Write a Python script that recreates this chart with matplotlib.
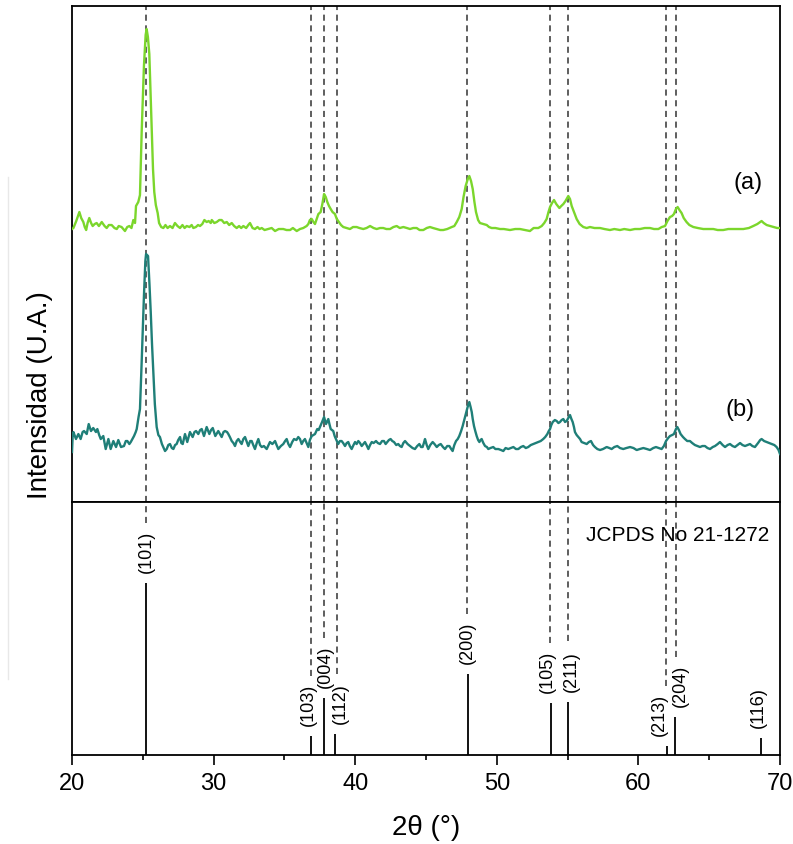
import numpy as np
import matplotlib
matplotlib.use("Agg")
import matplotlib.pyplot as plt
from matplotlib.ticker import MultipleLocator
from matplotlib.lines import Line2D

plt.rcParams['font.family'] = ['Liberation Sans', 'DejaVu Sans']

# XRD scans: (2theta, intensity a.u. above baseline)
scan_a = [
    (20.0, 0), (20.1, 1), (20.3, 8), (20.52, 17), (20.65, 11), (20.8, 7), (20.9, 2), (21.0, -1), (21.1, 6),
    (21.22, 11), (21.35, 6), (21.46, 3), (21.6, 5), (21.74, 6), (21.9, 3), (22.1, 7), (22.3, 3), (22.45, 1),
    (22.6, 4), (22.8, 4), (23.0, 1), (23.16, 0), (23.3, 3), (23.5, 2), (23.62, 0), (23.74, -2), (23.9, 2),
    (24.05, 3), (24.2, 1), (24.33, 9), (24.45, 6), (24.52, 23), (24.68, 27), (24.8, 34), (24.92, 97),
    (25.08, 163), (25.2, 194), (25.27, 200), (25.36, 192), (25.46, 175), (25.55, 135), (25.63, 97),
    (25.72, 60), (25.81, 37), (25.92, 24), (26.05, 16), (26.15, 6), (26.3, 2), (26.45, 1), (26.6, 4),
    (26.75, 1), (26.92, 3), (27.1, 1), (27.27, 6), (27.45, 3), (27.63, 1), (27.8, 4), (27.95, 1), (28.1, 3),
    (28.3, 2), (28.45, 4), (28.57, 1), (28.75, 2), (28.9, 4), (29.04, 3), (29.2, 5), (29.35, 9), (29.51, 7),
    (29.65, 8), (29.8, 6), (29.87, 9), (30.05, 6), (30.22, 7), (30.4, 9), (30.57, 9), (30.75, 6), (30.93, 7),
    (31.1, 4), (31.28, 6), (31.45, 3), (31.63, 1), (31.8, 3), (31.95, 1), (32.1, 3), (32.3, 1), (32.45, 4),
    (32.57, 6), (32.75, 1), (32.92, 0), (33.1, 2), (33.25, 0), (33.4, 1), (33.6, -1), (33.86, 0), (34.1, 1),
    (34.34, -2), (34.6, 0), (34.92, 0), (35.15, -1), (35.4, -1), (35.6, 1), (35.87, -2), (36.1, 0), (36.33, 1),
    (36.57, 3), (36.69, 5), (36.8, 9), (36.93, 10), (37.05, 7), (37.16, 5), (37.3, 11), (37.4, 15), (37.56, 17),
    (37.68, 25), (37.8, 35), (37.92, 32), (38.03, 27), (38.15, 23), (38.27, 20), (38.4, 17), (38.57, 15),
    (38.7, 10), (38.8, 8), (39.0, 4), (39.16, 2), (39.4, 1), (39.63, 0), (39.85, 2), (40.1, 2), (40.3, 1),
    (40.57, 0), (40.8, 1), (41.05, 3), (41.3, 1), (41.52, 0), (41.75, 1), (41.98, 1), (42.2, 0), (42.46, 0),
    (42.7, 2), (42.93, 3), (43.15, 1), (43.4, 2), (43.65, 1), (43.87, 0), (44.1, 1), (44.34, 1), (44.55, -1),
    (44.81, -1), (45.05, 1), (45.28, 2), (45.5, 1), (45.76, 0), (46.0, -1), (46.22, -1), (46.5, 0), (46.82, 2),
    (47.0, 3), (47.17, 7), (47.35, 12), (47.52, 20), (47.65, 32), (47.8, 43), (47.95, 50), (48.06, 53),
    (48.18, 48), (48.3, 40), (48.42, 27), (48.53, 17), (48.68, 9), (48.81, 6), (49.05, 5), (49.29, 4),
    (49.45, 2), (49.64, 1), (49.9, 1), (50.23, 0), (50.5, 0), (50.93, -1), (51.3, 0), (51.64, 0), (52.0, -1),
    (52.34, -2), (52.6, 1), (52.93, 1), (53.17, 3), (53.35, 6), (53.52, 10), (53.65, 17), (53.76, 22),
    (53.9, 26), (54.04, 29), (54.2, 25), (54.42, 21), (54.55, 23), (54.7, 25), (54.85, 28), (55.05, 33),
    (55.17, 30), (55.29, 23), (55.45, 17), (55.64, 10), (55.85, 5), (56.11, 2), (56.35, 1), (56.58, 2),
    (56.9, 1), (57.29, 1), (57.6, 0), (57.99, -1), (58.3, 0), (58.7, -1), (59.0, 0), (59.41, -1), (59.75, 0),
    (60.11, 0), (60.45, 1), (60.82, 1), (61.1, 0), (61.41, 0), (61.65, 2), (61.88, 3), (62.05, 8), (62.23, 12),
    (62.38, 13), (62.51, 15), (62.65, 20), (62.77, 22), (62.9, 19), (63.05, 16), (63.2, 11), (63.4, 7),
    (63.6, 4), (63.88, 2), (64.2, 1), (64.58, 0), (64.9, 0), (65.29, 0), (65.6, -1), (65.99, -1), (66.35, 0),
    (66.7, 0), (67.05, 0), (67.41, 0), (67.8, 1), (68.11, 3), (68.4, 5), (68.7, 8), (68.85, 6), (69.06, 4),
    (69.3, 3), (69.53, 2), (69.8, 1), (70.0, 1),
]

scan_b = [
    (20.0, -3), (20.05, 14), (20.1, 17), (20.28, 10), (20.45, 15), (20.61, 10), (20.75, 17), (20.85, 18),
    (21.04, 15), (21.18, 25), (21.34, 18), (21.5, 21), (21.69, 17), (21.79, 20), (21.92, 14), (22.03, 10),
    (22.21, 13), (22.38, 0), (22.57, 10), (22.73, 0), (22.92, 8), (23.11, 2), (23.27, 9), (23.46, 2),
    (23.67, 3), (23.8, 8), (23.91, 8), (24.05, 5), (24.15, 7), (24.38, 13), (24.5, 17), (24.57, 20),
    (24.7, 32), (24.8, 40), (24.92, 87), (25.08, 153), (25.18, 188), (25.23, 195), (25.37, 193), (25.47, 165),
    (25.56, 137), (25.65, 105), (25.74, 77), (25.85, 45), (25.98, 22), (26.1, 14), (26.21, 12), (26.35, 5),
    (26.57, -2), (26.69, 0), (26.8, 4), (26.92, 5), (27.05, 1), (27.16, 0), (27.28, 4), (27.39, 5), (27.5, 9),
    (27.63, 12), (27.72, 6), (27.82, 5), (27.98, 15), (28.14, 7), (28.33, 17), (28.52, 12), (28.65, 17),
    (28.76, 18), (28.92, 15), (29.05, 19), (29.16, 20), (29.32, 13), (29.51, 22), (29.7, 15), (29.82, 19),
    (29.94, 21), (30.12, 13), (30.33, 18), (30.45, 15), (30.57, 12), (30.7, 17), (30.81, 18), (30.95, 17),
    (31.04, 15), (31.15, 12), (31.28, 8), (31.4, 6), (31.51, 3), (31.63, 8), (31.75, 10), (31.88, 7),
    (31.98, 5), (32.1, 10), (32.22, 12), (32.35, 7), (32.45, 3), (32.58, 8), (32.69, 8), (32.8, 4), (32.92, 0),
    (33.05, 6), (33.16, 10), (33.28, 4), (33.4, 2), (33.55, 3), (33.75, 0), (33.88, 4), (33.98, 7), (34.15, 5),
    (34.34, 8), (34.45, 4), (34.57, 0), (34.75, 3), (34.92, 5), (35.05, 8), (35.16, 10), (35.28, 5), (35.4, 2),
    (35.55, 7), (35.68, 10), (35.85, 9), (35.98, 12), (36.1, 10), (36.22, 5), (36.33, 8), (36.45, 10),
    (36.57, 6), (36.69, 2), (36.8, 9), (36.93, 13), (37.05, 14), (37.16, 15), (37.32, 20), (37.42, 19),
    (37.51, 22), (37.66, 27), (37.8, 32), (37.94, 25), (38.1, 30), (38.18, 25), (38.27, 20), (38.45, 18),
    (38.55, 13), (38.64, 10), (38.8, 5), (38.92, 8), (39.04, 8), (39.15, 6), (39.28, 3), (39.4, 6), (39.51, 7),
    (39.62, 3), (39.75, 0), (39.88, 4), (39.99, 7), (40.1, 5), (40.22, 8), (40.34, 6), (40.46, 3), (40.58, 5),
    (40.69, 7), (40.8, 4), (40.93, 0), (41.05, 4), (41.17, 7), (41.3, 6), (41.47, 8), (41.6, 6), (41.75, 5),
    (41.9, 8), (42.03, 8), (42.15, 5), (42.27, 7), (42.38, 9), (42.5, 10), (42.62, 8), (42.74, 7), (42.9, 4),
    (43.04, 5), (43.16, 3), (43.28, 2), (43.4, 6), (43.52, 8), (43.7, 5), (43.87, 3), (44.05, 1), (44.22, 0),
    (44.38, 3), (44.53, 5), (44.65, 2), (44.76, 2), (44.85, 6), (44.93, 10), (45.05, 4), (45.16, 0), (45.3, 4),
    (45.47, 7), (45.6, 5), (45.76, 2), (45.9, 4), (46.04, 5), (46.2, 2), (46.34, 0), (46.5, 3), (46.65, 3),
    (46.78, 0), (46.88, -2), (47.0, 4), (47.12, 8), (47.24, 10), (47.35, 13), (47.48, 18), (47.59, 23),
    (47.7, 29), (47.78, 33), (47.94, 42), (48.06, 47), (48.15, 42), (48.23, 37), (48.3, 30), (48.39, 23),
    (48.48, 18), (48.58, 13), (48.68, 9), (48.77, 7), (48.85, 9), (48.93, 10), (49.05, 6), (49.17, 3),
    (49.3, 2), (49.4, 0), (49.55, 1), (49.75, 2), (49.9, 0), (50.11, 0), (50.3, -1), (50.46, -2), (50.62, 1),
    (50.81, 0), (51.0, 1), (51.17, 2), (51.35, 0), (51.52, 0), (51.7, 2), (51.87, 3), (52.05, 1), (52.22, 2),
    (52.4, 4), (52.58, 5), (52.75, 6), (52.93, 7), (53.1, 8), (53.28, 10), (53.42, 12), (53.57, 15),
    (53.67, 18), (53.76, 20), (53.85, 24), (53.95, 27), (54.1, 29), (54.23, 28), (54.35, 26), (54.46, 27),
    (54.58, 29), (54.7, 30), (54.82, 27), (54.93, 28), (55.05, 31), (55.17, 34), (55.27, 30), (55.36, 27),
    (55.45, 22), (55.52, 17), (55.64, 14), (55.76, 12), (55.88, 10), (55.99, 7), (56.17, 6), (56.35, 5),
    (56.5, 7), (56.65, 8), (56.8, 4), (56.93, 2), (57.1, 0), (57.29, -1), (57.5, 0), (57.76, 2), (57.95, 1),
    (58.11, 0), (58.3, 2), (58.51, 3), (58.7, 1), (58.93, 0), (59.15, 1), (59.41, 2), (59.65, 1), (59.88, -1),
    (60.1, 0), (60.35, 1), (60.6, 0), (60.82, -1), (61.05, 1), (61.24, 2), (61.45, 1), (61.64, 0), (61.8, 3),
    (61.95, 8), (62.1, 11), (62.23, 13), (62.38, 14), (62.51, 15), (62.65, 20), (62.75, 22), (62.86, 19),
    (62.98, 15), (63.15, 12), (63.29, 10), (63.45, 8), (63.64, 8), (63.8, 6), (63.99, 4), (64.18, 3),
    (64.35, 2), (64.52, 3), (64.7, 3), (64.88, 1), (65.06, 0), (65.25, 2), (65.41, 3), (65.6, 5), (65.76, 7),
    (65.95, 4), (66.12, 2), (66.3, 4), (66.47, 5), (66.65, 3), (66.82, 2), (67.0, 4), (67.18, 6), (67.35, 4),
    (67.53, 3), (67.7, 4), (67.88, 5), (68.05, 3), (68.23, 2), (68.45, 6), (68.6, 9), (68.7, 10), (68.88, 8),
    (69.06, 7), (69.25, 6), (69.41, 5), (69.6, 4), (69.76, 2), (69.9, -1), (70.0, -5),
]

# JCPDS 21-1272 reference reflections
hkl = ["(101)", "(103)", "(004)", "(112)", "(200)", "(105)", "(211)", "(213)", "(204)", "(116)"]
ref_pos = [25.25, 36.9, 37.8, 38.55, 47.95, 53.8, 55.0, 62.0, 62.6, 68.65]
ref_int = [100, 11, 33, 12, 47, 30, 31, 5, 22, 10]
dashed_pos = [25.2, 36.88, 37.78, 38.68, 47.92, 53.75, 55.0, 61.98, 62.68]

OFF_A, OFF_B = 273, 53
lbl_dx = [0.0, -0.2, 0.1, 0.4, -0.05, -0.25, 0.25, -0.5, 0.35, -0.15]

ta, ia = np.array(scan_a).T
tb, ib = np.array(scan_b).T

fig = plt.figure(figsize=(7.93, 8.45), dpi=100)
ax1 = fig.add_axes([0.0908, 0.4047, 0.8928, 0.5870])
ax2 = fig.add_axes([0.0908, 0.1053, 0.8928, 0.2994], sharex=ax1)

for ax in (ax1, ax2):
    for s in ax.spines.values():
        s.set_linewidth(1.3)

# top panel: patterns
for x in dashed_pos:
    ax1.axvline(x, color="#333333", lw=1.1, ls=(0, (4, 3)), zorder=1)
ax1.plot(ta, ia + OFF_A, color="#7BD62C", lw=1.7, zorder=3)
ax1.plot(tb, ib + OFF_B, color="#1F7F78", lw=1.7, zorder=3)
ax1.set_ylim(0, 496)
ax1.set_xlim(20, 70)
ax1.tick_params(axis="both", which="both", left=False, bottom=False, labelleft=False, labelbottom=False)
fig.text(0.943, 0.7834, "(a)", fontsize=17, ha="center", va="center")
fig.text(0.933, 0.515, "(b)", fontsize=17, ha="center", va="center")

# bottom panel: reference stick pattern
YTOP = 147
ax2.set_ylim(0, YTOP)
ax2.vlines(ref_pos, 0, ref_int, color="black", lw=1.3)
for x, h in zip(dashed_pos, ref_int):
    ax2.vlines(x, h + 35, YTOP, color="#333333", lw=1.1, linestyles=[(0, (4, 3))])
for lab, x, h, dx in zip(hkl, ref_pos, ref_int, lbl_dx):
    ax2.text(x + dx, h + 6.4, lab, rotation=90, ha="center", va="bottom", fontsize=13)
fig.text(0.855, 0.366, "JCPDS No 21-1272", fontsize=15, ha="center", va="center")

ax2.xaxis.set_major_locator(MultipleLocator(10))
ax2.xaxis.set_minor_locator(MultipleLocator(5))
ax2.tick_params(axis="x", which="major", direction="out", length=7, width=1.2, labelsize=17, pad=5)
ax2.tick_params(axis="x", which="minor", direction="out", length=3.5, width=1.2)
ax2.tick_params(axis="y", left=False, labelleft=False)

fig.text(0.537, 1 - 828 / 845, "2θ (°)", fontsize=20, ha="center", va="center")
fig.text(0.05, 0.533, "Intensidad (U.A.)", fontsize=20, rotation=90, ha="center", va="center")

fig.add_artist(Line2D([0.01, 0.01], [0.195, 0.789], color="#e8e8e8", lw=1.0))

fig.savefig("out.png", dpi=100)
